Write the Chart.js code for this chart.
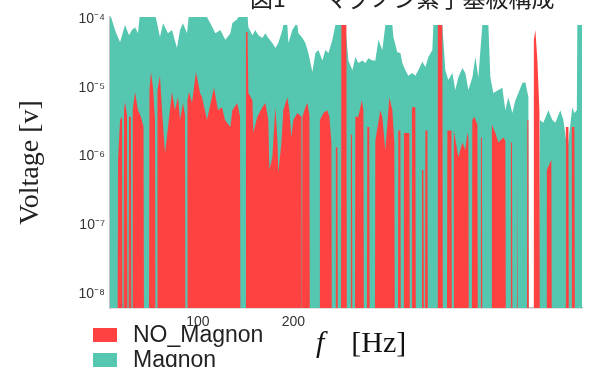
<!DOCTYPE html>
<html>
<head>
<meta charset="utf-8">
<script src="https://cdn.jsdelivr.net/npm/chart.js@4.4.1/dist/chart.umd.min.js"></script>
<style>
  body { margin: 0; background: #fff; }
  #wrap { position: relative; width: 590px; height: 367px; overflow: hidden; }
  #heading { position: absolute; top: -14px; left: 250px; font: 23px "Noto Sans CJK JP"; line-height: 23px; color: #222; white-space: nowrap; }
  #heading span { position: absolute; left: 75px; top: 0; }
  #xtitle { position: absolute; left: 316px; top: 327px; font: 30px "Liberation Serif"; line-height: 30px; color: #111; white-space: nowrap; }
  #legend { position: absolute; left: 93px; top: 322px; font: 23px "Liberation Sans"; color: #222; }
  #legend div { display: flex; align-items: center; height: 25px; }
  #legend i { display: inline-block; width: 24px; height: 14px; margin-right: 16px; }
</style>
</head>
<body>
<div id="wrap">
  <canvas id="chart" width="590" height="367"></canvas>
  <div id="heading">図1<span>マグノン素子基板構成</span></div>
  <div id="xtitle"><i>f</i><span style="margin-left:27px">[Hz]</span></div>
  <div id="legend"></div>
</div>
<script>
const xTicks = [100, 200];
const yTicks = [1e-8, 1e-7, 1e-6, 1e-5, 1e-4];
const yTickLabels = ["10⁻⁸", "10⁻⁷", "10⁻⁶", "10⁻⁵", "10⁻⁴"];

// Magnon (teal), frequency in Hz / voltage in V
const magnonFreq = [
  8, 13.2, 18.5, 23.7, 27.9, 31, 34.2, 37.3, 39.4, 55.1,
  60.3, 63.5, 68.7, 72.9, 78.1, 81.3, 84.4, 88.6, 90.7, 107.5,
  113, 118.3, 123.5, 128.7, 134, 136, 141.3, 144, 151.8, 152.8,
  157, 160.1, 163.3, 167.5, 170.6, 173.7, 177.9, 181.1, 184.2, 188.4,
  189.4, 193.6, 194.7, 198.9, 202, 204.1, 205.2, 209.4, 212.5, 215.6,
  219.8, 223, 226.1, 230.3, 233.4, 236.6, 240.8, 243.9, 254.3, 257.5,
  261.7, 264.8, 267.9, 272.1, 275.3, 278.4, 282.6, 285.7, 288.9, 293,
  296.2, 303.5, 304.6, 308.7, 311.9, 314, 317.1, 320.3, 324.4, 327.6,
  330.7, 334.9, 338.1, 341.2, 345.4, 346.4, 355.8, 359, 362.1, 366.3,
  369.4, 372.6, 376.8, 379.9, 383.1, 387.3, 390.4, 393.5, 397.7, 404,
  406.1, 409.2, 414.5, 418.6, 421.8, 424.9, 429.1, 432.3, 435.4, 439.6,
  442.7, 445.9, 446.4, 456.3, 457.9, 461.5, 466.8, 471, 474.1, 479.3,
  482.5, 486.7, 491.9, 494, 496.6, 497.1, 502
];
const magnonVolt = [
  1.2e-4, 6.9e-5, 4.6e-5, 8.2e-5, 5.8e-5, 6.9e-5, 7.6e-5, 6.2e-5, 1.2e-4, 1.2e-4,
  5.5e-5, 8.7e-5, 6.2e-5, 6.9e-5, 3.8e-5, 6.9e-5, 8.7e-5, 6.2e-5, 1.2e-4, 1.2e-4,
  8.7e-5, 6.2e-5, 6.9e-5, 5.0e-5, 6.2e-5, 8.7e-5, 1.0e-4, 1.2e-4, 1.2e-4, 7.6e-5,
  5.8e-5, 6.9e-5, 5.8e-5, 5.3e-5, 6.2e-5, 5.3e-5, 4.5e-5, 3.8e-5, 4.5e-5, 6.9e-5,
  8.2e-5, 8.2e-5, 4.5e-5, 6.9e-5, 8.2e-5, 8.2e-5, 6.2e-5, 5.3e-5, 4.5e-5, 3.2e-5,
  1.7e-5, 3.2e-5, 3.55e-5, 2.5e-5, 3.55e-5, 3.2e-5, 5.0e-5, 8.2e-5, 8.2e-5, 2.5e-5,
  1.8e-5, 2.8e-5, 2.3e-5, 2.5e-5, 2.3e-5, 2.7e-5, 2.5e-5, 2.5e-5, 5.0e-5, 3.55e-5,
  8.2e-5, 8.2e-5, 5.5e-5, 3.3e-5, 3.2e-5, 2.3e-5, 1.8e-5, 1.5e-5, 1.64e-5, 1.5e-5,
  1.8e-5, 2.4e-5, 2.0e-5, 2.8e-5, 3.55e-5, 8.2e-5, 8.2e-5, 1.8e-5, 1.3e-5, 1.64e-5,
  9.3e-6, 1.43e-5, 1.94e-5, 1.64e-5, 9.3e-6, 1.43e-5, 2.8e-5, 1.43e-5, 8.2e-5, 8.2e-5,
  1.43e-5, 8.4e-6, 9.3e-6, 1.0e-5, 4.7e-6, 7.3e-6, 4.3e-6, 6.6e-6, 8.4e-6, 1.17e-5,
  1.2e-5, 7.3e-6, 1e-9, 1e-9, 3.4e-6, 3.1e-6, 4.7e-6, 3.4e-6, 3.1e-6, 4.7e-6,
  3.4e-6, 1.24e-6, 5.2e-6, 4.3e-6, 4.7e-6, 8.2e-5, 8.2e-5
];

// NO_Magnon (red)
const noMagnonFreq = [
  8, 15.9, 16.4, 18.5, 20.6, 21.1, 22.2, 22.7, 23.7, 25.8,
  26.3, 27.4, 27.9, 29.9, 30.5, 31.3, 31.8, 34.2, 37.3, 40.4,
  43.1, 43.6, 48.8, 49.3, 50.9, 53, 55.1, 55.6, 57.2, 57.7,
  60.3, 62.4, 65.6, 68.7, 72.9, 76, 79.2, 81.3, 84.4, 86.5,
  87, 88.6, 89.1, 90.7, 93.8, 98, 102.2, 104.3, 109.5, 116.8,
  121, 125.2, 128.4, 134, 136, 141.3, 144.1, 144.6, 149.8, 150.3,
  151.9, 152.8, 157, 158, 162.2, 167.5, 170.6, 173.7, 174.8, 177.9,
  181.1, 183.2, 184.2, 187.4, 189.4, 193.6, 195.7, 197.8, 199.9, 204.1,
  208.3, 208.8, 209.4, 212.5, 214.6, 216.7, 217.2, 227.1, 227.7, 231.3,
  235.5, 237.6, 239.7, 240.2, 243.9, 244.4, 246, 246.5, 249.7, 250.2,
  255.4, 255.9, 259.6, 260.1, 261.2, 261.7, 264.3, 264.8, 267.9, 271.6,
  273.2, 273.7, 276.8, 277.3, 279.4, 279.9, 285.2, 285.7, 290.9, 293,
  296.2, 300.4, 303.5, 305.6, 306.1, 309.3, 309.8, 311.9, 312.4, 315,
  315.6, 321.3, 321.9, 323.4, 324, 327.6, 328.2, 333.9, 334.5, 336,
  336.6, 337.6, 338.1, 340.2, 340.7, 350.6, 351.1, 355.8, 356.4, 360.6,
  361.1, 365.3, 365.8, 367.4, 367.9, 372.6, 376.8, 379.9, 382, 383.1,
  383.6, 386.7, 387.2, 389.3, 392.5, 393, 395.6, 396.2, 397.2, 397.7,
  407.1, 407.7, 411.3, 414.5, 419.7, 421.8, 422.4, 427.1, 427.6, 428.7,
  429.2, 433.9, 434.4, 434.9, 444.3, 444.8, 445.9, 446.4, 451.1, 451.6,
  453.2, 455.3, 457.4, 457.9, 464.7, 465.2, 469.9, 470.5, 484.6, 485.1,
  487.8, 488.3, 490.9, 491.4, 494, 494.6, 502
];
const noMagnonVolt = [
  1e-9, 1e-9, 8.9e-7, 3.4e-6, 3.8e-6, 1e-9, 1e-9, 4.7e-6, 6.2e-6, 4.0e-6,
  1e-9, 1e-9, 3.8e-6, 3.8e-6, 1e-9, 1e-9, 4.7e-6, 8.7e-6, 4.7e-6, 3.8e-6,
  2.7e-6, 1e-9, 1e-9, 9.3e-6, 1.7e-5, 1.0e-5, 3.4e-6, 1e-9, 1e-9, 9.3e-6,
  1.5e-5, 4.7e-6, 1.12e-6, 2.7e-6, 8.7e-6, 4.7e-6, 7.3e-6, 3.4e-6, 6.0e-6, 4.0e-6,
  1e-9, 1e-9, 6.6e-6, 8.7e-6, 6.0e-6, 1.7e-5, 8.4e-6, 7.3e-6, 3.4e-6, 1.0e-5,
  4.7e-6, 5.2e-6, 3.4e-6, 2.7e-6, 4.7e-6, 6.0e-6, 3.8e-6, 1e-9, 1e-9, 6.5e-5,
  6.5e-5, 8.4e-6, 6.6e-6, 2.2e-6, 3.8e-6, 5.2e-6, 6.0e-6, 3.4e-6, 6.4e-7, 9.8e-7,
  5.2e-6, 1.7e-6, 5.8e-7, 1.6e-6, 4.7e-6, 7.3e-6, 4.7e-6, 1.9e-6, 3.4e-6, 4.3e-6,
  3.8e-6, 1e-9, 3.8e-6, 5.2e-6, 6.0e-6, 4.0e-6, 1e-9, 1e-9, 3.4e-6, 4.3e-6,
  4.7e-6, 3.8e-6, 1.6e-6, 1e-9, 1e-9, 1.37e-6, 1.37e-6, 1e-9, 1e-9, 8.2e-5,
  8.2e-5, 1e-9, 1e-9, 2.1e-6, 2.1e-6, 1e-9, 1e-9, 3.8e-6, 3.8e-6, 6.6e-6,
  4.7e-6, 1e-9, 1e-9, 2.7e-6, 2.7e-6, 1e-9, 1e-9, 1.7e-6, 4.7e-6, 3.8e-6,
  1.24e-6, 7.3e-6, 4.7e-6, 1.6e-6, 1e-9, 1e-9, 2.4e-6, 2.4e-6, 1e-9, 1e-9,
  2.2e-6, 2.2e-6, 1e-9, 1e-9, 5.2e-6, 5.2e-6, 1e-9, 1e-9, 6.4e-7, 6.4e-7,
  1e-9, 1e-9, 2.4e-6, 2.4e-6, 1e-9, 1e-9, 8.2e-5, 8.2e-5, 1e-9, 1e-9,
  2.4e-6, 2.4e-6, 1e-9, 1e-9, 2.4e-6, 9.8e-7, 1.6e-6, 1.24e-6, 2.2e-6, 1.9e-6,
  1e-9, 1e-9, 3.4e-6, 3.8e-6, 2.9e-6, 1e-9, 1e-9, 1.9e-6, 1.9e-6, 1e-9,
  1e-9, 2.9e-6, 2.2e-6, 1.6e-6, 1.9e-6, 1.7e-6, 1e-9, 1e-9, 1.6e-6, 1.6e-6,
  1e-9, 1e-9, 5.8e-7, 1e-9, 1e-9, 3.4e-6, 3.4e-6, 1e-9, 1e-9, 5.0e-5,
  6.9e-5, 2.5e-5, 4.7e-6, 1e-9, 1e-9, 6.4e-7, 8.9e-7, 1e-9, 1e-9, 2.7e-6,
  2.7e-6, 1e-9, 1e-9, 2.7e-6, 2.7e-6, 1e-9, 1e-9
];

const toPoints = (xs, ys) => xs.map((x, i) => ({ x: x, y: ys[i] }));

const chart = new Chart(document.getElementById("chart"), {
  type: "line",
  data: {
    datasets: [
      {
        label: "NO_Magnon",
        data: toPoints(noMagnonFreq, noMagnonVolt),
        backgroundColor: "#fe4141",
        borderColor: "rgba(0,0,0,0)",
        borderWidth: 0,
        pointRadius: 0,
        fill: "start",
      },
      {
        label: "Magnon",
        data: toPoints(magnonFreq, magnonVolt),
        backgroundColor: "#55c6b0",
        borderColor: "rgba(0,0,0,0)",
        borderWidth: 0,
        pointRadius: 0,
        fill: "start",
      },
    ],
  },
  options: {
    responsive: false,
    animation: false,
    layout: { padding: { top: 17, right: 8, left: 0, bottom: 0 } },
    plugins: {
      legend: { display: false },
      tooltip: { enabled: false },
    },
    scales: {
      x: {
        type: "linear",
        min: 8,
        max: 502,
        afterBuildTicks: (s) => { s.ticks = xTicks.map((v) => ({ value: v })); },
        afterFit: (s) => { s.height = 59; },
        ticks: {
          color: "#333",
          padding: 6,
          maxRotation: 0,
          font: { family: "Liberation Sans", size: 14 },
        },
        grid: { display: false, drawTicks: false },
        border: { display: true, color: "#c4c4c4", width: 1.5 },
      },
      y: {
        type: "logarithmic",
        min: 6.3e-9,
        max: 1.07e-4,
        afterBuildTicks: (s) => { s.ticks = yTicks.map((v) => ({ value: v })); },
        afterFit: (s) => { s.width = 110; },
        ticks: {
          color: "#333",
          padding: 5,
          font: { family: "Liberation Sans", size: 14 },
          callback: (v, i) => yTickLabels[i],
        },
        grid: { display: false, drawTicks: false },
        border: { display: true, color: "#c4c4c4", width: 1.5 },
        title: {
          display: true,
          text: "Voltage [v]",
          color: "#222",
          font: { family: "Liberation Serif", size: 28 },
          padding: { top: 14, bottom: 0 },
        },
      },
    },
  },
});

// legend in two rows below the axis, built from the datasets
const legend = document.getElementById("legend");
chart.data.datasets.forEach((ds) => {
  const row = document.createElement("div");
  const box = document.createElement("i");
  box.style.background = ds.backgroundColor;
  row.appendChild(box);
  row.appendChild(document.createTextNode(ds.label));
  legend.appendChild(row);
});
</script>
</body>
</html>
